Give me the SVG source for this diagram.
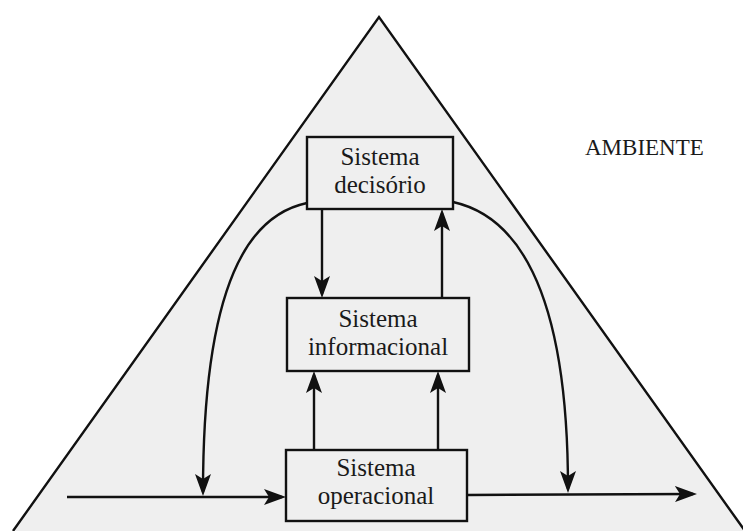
<svg xmlns="http://www.w3.org/2000/svg" width="743" height="531" viewBox="0 0 743 531">
  <style>
    .edge { fill: none; stroke: #111; stroke-width: 2.4; }
    .box { fill: #efefef; stroke: #111; stroke-width: 2.4; }
    .lbl { font-family: "Liberation Serif", "Times New Roman", serif; font-size: 25px; fill: #1a1a1a; text-anchor: middle; }
    .env { font-family: "Liberation Serif", "Times New Roman", serif; font-size: 23px; fill: #1a1a1a; }
  </style>
  <defs>
    <!-- barbed arrowhead; tip sits 4px beyond the path end -->
    <marker id="arrow" viewBox="0 0 22 16" refX="18" refY="8" markerWidth="22" markerHeight="16" markerUnits="userSpaceOnUse" orient="auto">
      <path d="M0,0 L22,8 L0,16 L5,8 Z" fill="#111"/>
    </marker>
  </defs>

  <rect width="743" height="531" fill="#ffffff"/>

  <!-- environment pyramid: base runs off the lower edge, so only the sides are stroked -->
  <g id="ambiente">
    <polygon points="379,17 13,531 745,531" fill="#efefef"/>
    <polyline points="13,531 379,17 745,531" fill="none" stroke="#111" stroke-width="2.4"/>
    <text class="env" x="585" y="155">AMBIENTE</text>
  </g>

  <!-- connectors -->
  <g id="connectors">
    <!-- decision -> information -->
    <path class="edge" d="M322,209 L322,294" marker-end="url(#arrow)"/>
    <!-- information -> decision -->
    <path class="edge" d="M442,297 L442,213" marker-end="url(#arrow)"/>
    <!-- operational -> information -->
    <path class="edge" d="M314,450 L314,375" marker-end="url(#arrow)"/>
    <path class="edge" d="M438,450 L438,375" marker-end="url(#arrow)"/>
    <!-- decision feedback loops down to the flow line -->
    <path class="edge" d="M307,203 C250,215 203,280 203,492" marker-end="url(#arrow)"/>
    <path class="edge" d="M453,202 C512,215 568,280 568,489" marker-end="url(#arrow)"/>
    <!-- input and output flow -->
    <path class="edge" d="M67,497 L282,497" marker-end="url(#arrow)"/>
    <path class="edge" d="M467,495 L693,494" marker-end="url(#arrow)"/>
  </g>

  <g id="sistema-decisorio">
    <rect class="box" x="307" y="137" width="146" height="72"/>
    <text class="lbl" x="380" y="165">Sistema</text>
    <text class="lbl" x="380" y="193">decisório</text>
  </g>

  <g id="sistema-informacional">
    <rect class="box" x="287" y="298" width="182" height="73"/>
    <text class="lbl" x="378" y="327">Sistema</text>
    <text class="lbl" x="378" y="355">informacional</text>
  </g>

  <g id="sistema-operacional">
    <rect class="box" x="286" y="450" width="181" height="71"/>
    <text class="lbl" x="376" y="476">Sistema</text>
    <text class="lbl" x="376" y="504">operacional</text>
  </g>
</svg>
